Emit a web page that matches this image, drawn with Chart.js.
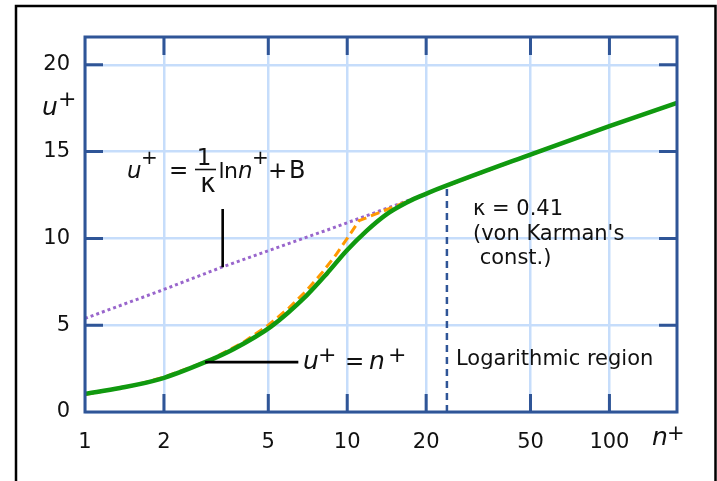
<!DOCTYPE html>
<html>
<head>
<meta charset="utf-8">
<script src="https://cdn.jsdelivr.net/npm/chart.js@4/dist/chart.umd.min.js"></script>
<style>
  html, body { margin: 0; padding: 0; background: #fff; }
  #wrap { width: 717px; height: 481px; }
</style>
</head>
<body>
<div id="wrap"><canvas id="c" width="717" height="481"></canvas></div>
<script>
// Axis ticks
const xTicks = [1, 2, 5, 10, 20, 50, 100];
const yTicks = [0, 5, 10, 15, 20];

// Velocity profile u+ against wall distance n+
const profileN = [1, 1.36, 1.93, 2.87, 3.68, 5.12, 7.01, 8.36, 9.96, 11.88, 14.16, 16.87, 19.13, 20.47, 51.5, 100, 181];
const profileU = [1.05, 1.38, 1.89, 2.87, 3.62, 4.92, 6.72, 7.97, 9.3, 10.45, 11.4, 12.07, 12.45, 12.64, 14.9, 16.46, 17.8];

// Sublayer line u+ = n+, joined to the log law
const linearN = [1, 1.5, 2, 3, 4, 5, 6, 7, 8, 9, 10, 11.1, 19.13, 20.47, 51.5, 100, 181];
const linearU = [1, 1.5, 2, 3, 4, 5, 6, 7, 8, 9, 10, 11.02, 12.45, 12.64, 14.9, 16.46, 17.8];

// Log law carried down into the buffer layer
const logN = [1, 1.93, 3.32, 8.6, 19.13];
const logU = [5.39, 6.97, 8.34, 10.54, 12.45];

// Start of the logarithmic region
const regionN = [24, 24];
const regionU = [0, 12.9];

const AXIS = '#2f5597';
const GRID = '#c6ddfb';
const FONT = '"DejaVu Sans", Verdana, sans-serif';

const pts = (xs, ys) => xs.map((v, i) => ({ x: v, y: ys[i] }));

// Frame, inward tick marks on all four edges, annotations
const framePlugin = {
  id: 'frame',
  afterDatasetsDraw(chart) {
    const { ctx, chartArea: a, scales: { x, y } } = chart;
    ctx.save();
    ctx.strokeStyle = AXIS;
    ctx.lineWidth = 3;
    ctx.lineCap = 'butt';
    ctx.beginPath();
    xTicks.slice(1).forEach(v => {
      const px = x.getPixelForValue(v);
      ctx.moveTo(px, a.bottom); ctx.lineTo(px, a.bottom - 18);
      ctx.moveTo(px, a.top); ctx.lineTo(px, a.top + 18);
    });
    yTicks.slice(1).forEach(v => {
      const py = y.getPixelForValue(v);
      ctx.moveTo(a.left, py); ctx.lineTo(a.left + 18, py);
      ctx.moveTo(a.right, py); ctx.lineTo(a.right - 18, py);
    });
    ctx.stroke();
    ctx.strokeRect(a.left, a.top, a.right - a.left, a.bottom - a.top);
    ctx.restore();
  },
  afterDraw(chart) {
    const { ctx, scales: { x, y } } = chart;
    ctx.save();
    // outer page frame
    ctx.strokeStyle = '#000';
    ctx.lineWidth = 2.5;
    ctx.beginPath();
    ctx.moveTo(16, 490); ctx.lineTo(16, 6); ctx.lineTo(715.5, 6); ctx.lineTo(715.5, 490);
    ctx.stroke();

    ctx.fillStyle = '#111';
    ctx.textBaseline = 'alphabetic';
    const it = s => `italic ${s}px ${FONT}`;
    const rg = s => `${s}px ${FONT}`;
    const put = (t, f, px, py, align = 'left') => {
      ctx.font = f; ctx.textAlign = align; ctx.fillText(t, px, py);
    };

    // axis titles
    put('u', it(25), 42, 115);
    put('+', rg(22), 58, 106);
    put('n', it(25), 652, 445);
    put('+', rg(21), 667, 440);

    // log-law formula
    put('u', it(23), 127, 178);
    put('+', rg(20), 141, 164);
    put('=', rg(23), 169, 178);
    put('1', rg(23), 204, 165, 'center');
    put('\u03BA', rg(26), 208, 191.5, 'center');
    put('l', rg(22), 218.5, 178);
    put('n', rg(22), 224, 178);
    put('n', it(23), 238, 178);
    put('+', rg(20), 252, 164);
    put('+', rg(23), 268, 178);
    put('B', rg(24), 289, 178);
    ctx.strokeStyle = '#111';
    ctx.lineWidth = 1.6;
    ctx.beginPath(); ctx.moveTo(195, 169.5); ctx.lineTo(216, 169.5); ctx.stroke();

    // leader lines
    ctx.lineWidth = 2.6;
    ctx.strokeStyle = '#000';
    ctx.beginPath();
    const lx = x.getPixelForValue(3.35);
    ctx.moveTo(lx, y.getPixelForValue(8.34)); ctx.lineTo(lx, y.getPixelForValue(11.69));
    const sy = y.getPixelForValue(2.87);
    ctx.moveTo(x.getPixelForValue(2.87), sy); ctx.lineTo(x.getPixelForValue(6.51), sy);
    ctx.stroke();

    // sublayer formula
    put('u', it(25), 303, 369);
    put('+', rg(22), 318, 362);
    put('=', rg(23), 345, 369);
    put('n', it(25), 369, 369);
    put('+', rg(22), 388, 362);

    // constants and region label
    put('\u03BA = 0.41', rg(21), 473, 215);
    put('(von Karman\'s', rg(21), 473, 240);
    put(' const.)', rg(21), 473, 264);
    put('Logarithmic region', rg(21), 456, 365);
    ctx.restore();
  }
};

new Chart(document.getElementById('c'), {
  type: 'line',
  data: {
    datasets: [
      {
        data: pts(profileN, profileU),
        borderColor: '#10990f',
        borderWidth: 4.5,
        cubicInterpolationMode: 'monotone',
        pointRadius: 0
      },
      {
        data: pts(linearN, linearU),
        borderColor: '#ff9900',
        borderWidth: 3,
        borderDash: [9, 5],
        pointRadius: 0
      },
      {
        data: pts(logN, logU),
        borderColor: '#9966cc',
        borderWidth: 3,
        borderDash: [3, 3],
        pointRadius: 0
      },
      {
        data: pts(regionN, regionU),
        borderColor: AXIS,
        borderWidth: 2.5,
        borderDash: [7, 5],
        pointRadius: 0
      }
    ]
  },
  options: {
    responsive: false,
    animation: false,
    events: [],
    layout: { padding: { left: 0, top: 37, right: 40, bottom: 0 } },
    plugins: { legend: { display: false }, tooltip: { enabled: false } },
    scales: {
      x: {
        type: 'logarithmic',
        min: 1,
        max: 181,
        border: { display: false },
        grid: { color: GRID, lineWidth: 2.5, drawTicks: false },
        afterBuildTicks: s => { s.ticks = xTicks.map(v => ({ value: v })); },
        afterFit: s => { s.height = 69; },
        ticks: {
          autoSkip: false, maxRotation: 0, padding: 18,
          color: '#111', font: { family: FONT, size: 21 },
          callback: v => String(v)
        }
      },
      y: {
        type: 'linear',
        min: 0,
        max: 21.6,
        border: { display: false },
        grid: { color: GRID, lineWidth: 2.5, drawTicks: false },
        afterBuildTicks: s => { s.ticks = yTicks.map(v => ({ value: v })); },
        afterFit: s => { s.width = 85; },
        ticks: {
          padding: 15,
          color: '#111', font: { family: FONT, size: 21 }
        }
      }
    }
  },
  plugins: [framePlugin]
});
</script>
</body>
</html>
